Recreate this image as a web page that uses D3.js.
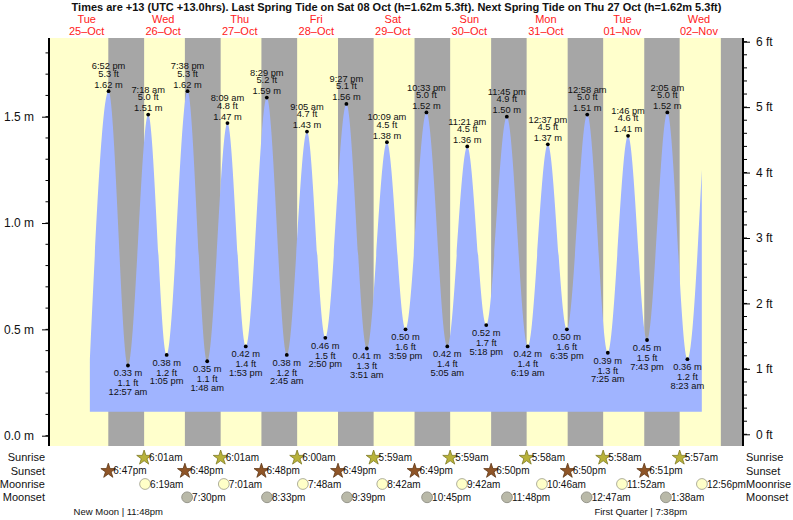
<!DOCTYPE html>
<html>
<head>
<meta charset="utf-8">
<script src="https://cdn.jsdelivr.net/npm/d3@7"></script>
<style>
  body { margin: 0; background: #fff; }
  svg { font-family: "Liberation Sans", Arial, sans-serif; }
</style>
</head>
<body>
<div id="chart"></div>
<script>
// tide extremes (local time, +13)
const tideTimes = [
  "2022-10-25 18:52", "2022-10-26 00:57", "2022-10-26 07:18", "2022-10-26 13:05", "2022-10-26 19:38",
  "2022-10-27 01:48", "2022-10-27 08:09", "2022-10-27 13:53", "2022-10-27 20:29",
  "2022-10-28 02:45", "2022-10-28 09:05", "2022-10-28 14:50", "2022-10-28 21:27",
  "2022-10-29 03:51", "2022-10-29 10:09", "2022-10-29 15:59", "2022-10-29 22:33",
  "2022-10-30 05:05", "2022-10-30 11:21", "2022-10-30 17:18", "2022-10-30 23:45",
  "2022-10-31 06:19", "2022-10-31 12:37", "2022-10-31 18:35",
  "2022-11-01 00:58", "2022-11-01 07:25", "2022-11-01 13:46", "2022-11-01 19:43",
  "2022-11-02 02:05", "2022-11-02 08:23"
];
const tideMetres = [
  1.62, 0.33, 1.51, 0.38, 1.62,
  0.35, 1.47, 0.42, 1.59,
  0.38, 1.43, 0.46, 1.56,
  0.41, 1.38, 0.50, 1.52,
  0.42, 1.36, 0.52, 1.50,
  0.42, 1.37, 0.50,
  1.51, 0.39, 1.41, 0.45,
  1.52, 0.36
];
const tideFeet = [
  5.3, 1.1, 5.0, 1.2, 5.3,
  1.1, 4.8, 1.4, 5.2,
  1.2, 4.7, 1.5, 5.1,
  1.3, 4.5, 1.6, 5.0,
  1.4, 4.5, 1.7, 4.9,
  1.4, 4.5, 1.6,
  5.0, 1.3, 4.6, 1.5,
  5.0, 1.2
];
// where the drawn curve starts and stops
const curveStart = ["2022-10-25 13:00", 0.36];
const curveEnd = ["2022-11-02 12:54", 1.25];
const datumLevel = 0.113;

const sunrise = ["2022-10-26 06:01", "2022-10-27 06:01", "2022-10-28 06:00", "2022-10-29 05:59",
  "2022-10-30 05:59", "2022-10-31 05:58", "2022-11-01 05:58", "2022-11-02 05:57"];
const sunset = ["2022-10-25 18:47", "2022-10-26 18:48", "2022-10-27 18:48", "2022-10-28 18:49",
  "2022-10-29 18:49", "2022-10-30 18:50", "2022-10-31 18:50", "2022-11-01 18:51", "2022-11-02 18:52"];
const moonrise = ["2022-10-26 06:19", "2022-10-27 07:01", "2022-10-28 07:48", "2022-10-29 08:42",
  "2022-10-30 09:42", "2022-10-31 10:46", "2022-11-01 11:52", "2022-11-02 12:56"];
const moonset = ["2022-10-26 19:30", "2022-10-27 20:33", "2022-10-28 21:39", "2022-10-29 22:45",
  "2022-10-30 23:48", "2022-11-01 00:47", "2022-11-02 01:38"];
const moonPhases = ["New Moon", "First Quarter"];
const moonPhaseTimes = ["2022-10-25 23:48", "2022-11-01 19:38"];

const dayNames = ["Tue", "Wed", "Thu", "Fri", "Sat", "Sun", "Mon", "Tue", "Wed"];
const dayDates = ["25–Oct", "26–Oct", "27–Oct", "28–Oct", "29–Oct", "30–Oct", "31–Oct", "01–Nov", "02–Nov"];
const metreTicks = [0, 0.5, 1.0, 1.5];
const feetTicks = [0, 1, 2, 3, 4, 5, 6];

const title = "Times are +13 (UTC +13.0hrs). Last Spring Tide on Sat 08 Oct (h=1.62m 5.3ft). Next Spring Tide on Thu 27 Oct (h=1.62m 5.3ft)";

const parse = d3.timeParse("%Y-%m-%d %H:%M");
const fmtTide = d => d3.timeFormat("%-I:%M %p")(d).toLowerCase();
const fmtEvent = d => d3.timeFormat("%-I:%M%p")(d).toLowerCase();

const W = 793, H = 520;
const plot = { left: 49, right: 742, top: 38, bottom: 446 };

const svg = d3.select("#chart").append("svg")
  .attr("width", W).attr("height", H);

const start = parse("2022-10-25 00:00");
const x = d3.scaleTime()
  .domain([start, parse("2022-11-03 01:30")])
  .range([48.4, 742]);
const yM = d3.scaleLinear().domain([0, 1.5]).range([435.7, 116.7]);
const yFt = d3.scaleLinear().domain([0, 6]).range([434.3, 41.7]);

svg.append("defs").append("clipPath").attr("id", "plotclip")
  .append("rect")
  .attr("x", plot.left).attr("y", plot.top)
  .attr("width", plot.right - plot.left).attr("height", plot.bottom - plot.top);

const g = svg.append("g").attr("clip-path", "url(#plotclip)");

// day background, then nights
g.append("rect")
  .attr("x", plot.left).attr("y", plot.top)
  .attr("width", plot.right - plot.left).attr("height", plot.bottom - plot.top)
  .attr("fill", "#ffffcc");

const rises = sunrise.map(parse);
const nights = sunset.map(parse).map(s => {
  const next = rises.find(r => r > s) || x.domain()[1];
  return [s, next];
});
g.selectAll(".night").data(nights).enter().append("rect")
  .attr("class", "night")
  .attr("x", d => x(d[0]))
  .attr("y", plot.top)
  .attr("width", d => x(d[1]) - x(d[0]))
  .attr("height", plot.bottom - plot.top)
  .attr("fill", "#a6a6a6");

// tide curve
const tide = tideTimes.map((t, i) => ({
  date: parse(t), m: tideMetres[i], ft: tideFeet[i],
  high: (i === 0 || tideMetres[i] > tideMetres[i - 1])
}));
const curvePts = [{ date: parse(curveStart[0]), m: curveStart[1] }]
  .concat(tide)
  .concat([{ date: parse(curveEnd[0]), m: curveEnd[1] }]);

const area = d3.area()
  .x(d => x(d.date))
  .y0(yM(datumLevel))
  .y1(d => yM(d.m))
  .curve(d3.curveMonotoneX);

g.append("path")
  .datum(curvePts)
  .attr("d", area)
  .attr("fill", "#a0b4ff");

// tide points and labels
const marks = svg.append("g").attr("font-size", 9.3).attr("fill", "#111").attr("text-anchor", "middle");
marks.selectAll("circle").data(tide).enter().append("circle")
  .attr("cx", d => x(d.date)).attr("cy", d => yM(d.m)).attr("r", 1.9).attr("fill", "#000");

const lbl = marks.selectAll(".lbl").data(tide).enter().append("g")
  .attr("class", "lbl")
  .attr("transform", d => "translate(" + x(d.date) + "," + yM(d.m) + ")");
lbl.each(function (d) {
  const s = d3.select(this);
  const lines = d.high
    ? [[fmtTide(d.date), -21.8], [d.ft.toFixed(1) + " ft", -14.5], [d.m.toFixed(2) + " m", -3.5]]
    : [[d.m.toFixed(2) + " m", 10.8], [d.ft.toFixed(1) + " ft", 20.8], [fmtTide(d.date), 29.6]];
  lines.forEach(l => s.append("text").attr("y", l[1]).text(l[0]));
});

// axes
const leftAxis = svg.append("g").attr("transform", "translate(" + (plot.left) + ",0)");
leftAxis.selectAll(".minor").data(d3.range(0, 19).map(i => i / 10)).enter().append("line")
  .attr("x1", -3.5).attr("x2", 0).attr("y1", d => yM(d)).attr("y2", d => yM(d))
  .attr("stroke", "#000").attr("stroke-width", 1);
leftAxis.call(d3.axisLeft(yM).tickValues(metreTicks).tickSize(7).tickPadding(8)
  .tickFormat(d => d.toFixed(1) + " m"));
leftAxis.select(".domain").remove();
leftAxis.selectAll(".tick text").attr("font-size", 12).attr("font-family", "Liberation Sans, Arial, sans-serif").attr("fill", "#111");
svg.append("line").attr("x1", plot.left).attr("x2", plot.left)
  .attr("y1", plot.top).attr("y2", plot.bottom).attr("stroke", "#000").attr("stroke-width", 2);

const rightAxis = svg.append("g").attr("transform", "translate(" + (plot.right + 1) + ",0)");
rightAxis.selectAll(".minor").data(d3.range(0, 31).map(i => i / 5)).enter().append("line")
  .attr("x1", 0).attr("x2", 4).attr("y1", d => yFt(d)).attr("y2", d => yFt(d))
  .attr("stroke", "#000").attr("stroke-width", 1);
rightAxis.call(d3.axisRight(yFt).tickValues(feetTicks).tickSize(7).tickPadding(6)
  .tickFormat(d => d + " ft"));
rightAxis.select(".domain").remove();
rightAxis.selectAll(".tick text").attr("font-size", 12).attr("font-family", "Liberation Sans, Arial, sans-serif").attr("fill", "#111");
svg.append("line").attr("x1", plot.right + 1).attr("x2", plot.right + 1)
  .attr("y1", plot.top).attr("y2", plot.bottom).attr("stroke", "#000").attr("stroke-width", 2);

// title and day headers
svg.append("text")
  .attr("x", 396.5).attr("y", 10.5)
  .attr("text-anchor", "middle").attr("font-weight", "bold").attr("font-size", 11)
  .attr("fill", "#111")
  .text(title);

const noons = dayNames.map((n, i) => d3.timeHour.offset(d3.timeDay.offset(start, i), 12));
const heads = svg.append("g").attr("fill", "#ff2020").attr("font-size", 11).attr("text-anchor", "middle");
heads.selectAll(".dn").data(noons).enter().append("text")
  .attr("x", d => x(d)).attr("y", 22.5).text((d, i) => dayNames[i]);
heads.selectAll(".dd").data(noons).enter().append("text")
  .attr("x", d => x(d)).attr("y", 35).text((d, i) => dayDates[i]);

// sun and moon rows
const rowY = { Sunrise: 457.3, Sunset: 470.5, Moonrise: 484, Moonset: 497.3 };
const rowLabels = Object.keys(rowY);
svg.append("g").attr("font-size", 11).attr("fill", "#111").attr("text-anchor", "end")
  .selectAll("text").data(rowLabels).enter().append("text")
  .attr("x", 45).attr("y", d => rowY[d] + 4).text(d => d);
svg.append("g").attr("font-size", 11).attr("fill", "#111")
  .selectAll("text").data(rowLabels).enter().append("text")
  .attr("x", 746).attr("y", d => rowY[d] + 4).text(d => d);

const labelLimit = 712;
function eventRow(times, row, drawMarker) {
  const ev = times.map(parse).filter(t => x(t) < labelLimit);
  const grp = svg.append("g");
  ev.forEach(t => {
    const cx = x(t), cy = rowY[row];
    drawMarker(grp, cx, cy);
    grp.append("text").attr("x", cx + 5).attr("y", cy + 3.6)
      .attr("font-size", 10).attr("fill", "#111").text(fmtEvent(t));
  });
}
const star = d3.symbol(d3.symbolStar).size(68);
eventRow(sunrise, "Sunrise", (grp, cx, cy) => grp.append("path").attr("d", star())
  .attr("transform", "translate(" + cx + "," + (cy + 0.5) + ")")
  .attr("fill", "#b8b23a").attr("stroke", "#7d7a22").attr("stroke-width", 0.8));
eventRow(sunset, "Sunset", (grp, cx, cy) => grp.append("path").attr("d", star())
  .attr("transform", "translate(" + cx + "," + (cy + 0.5) + ")")
  .attr("fill", "#8f5527").attr("stroke", "#5e3614").attr("stroke-width", 0.8));
eventRow(moonrise, "Moonrise", (grp, cx, cy) => grp.append("circle")
  .attr("cx", cx).attr("cy", cy).attr("r", 5.4)
  .attr("fill", "#ffffc8").attr("stroke", "#9a9a88").attr("stroke-width", 0.8));
eventRow(moonset, "Moonset", (grp, cx, cy) => grp.append("circle")
  .attr("cx", cx).attr("cy", cy).attr("r", 5.4)
  .attr("fill", "#b9b9a8").attr("stroke", "#85857a").attr("stroke-width", 0.8));

// moon phases
const phases = svg.append("g").attr("font-size", 9.5).attr("fill", "#111");
moonPhases.forEach((p, i) => {
  const t = parse(moonPhaseTimes[i]);
  phases.append("text").attr("x", x(t) - 6).attr("y", 515).attr("text-anchor", "middle")
    .text(p + " | " + fmtEvent(t));
});
</script>
</body>
</html>
